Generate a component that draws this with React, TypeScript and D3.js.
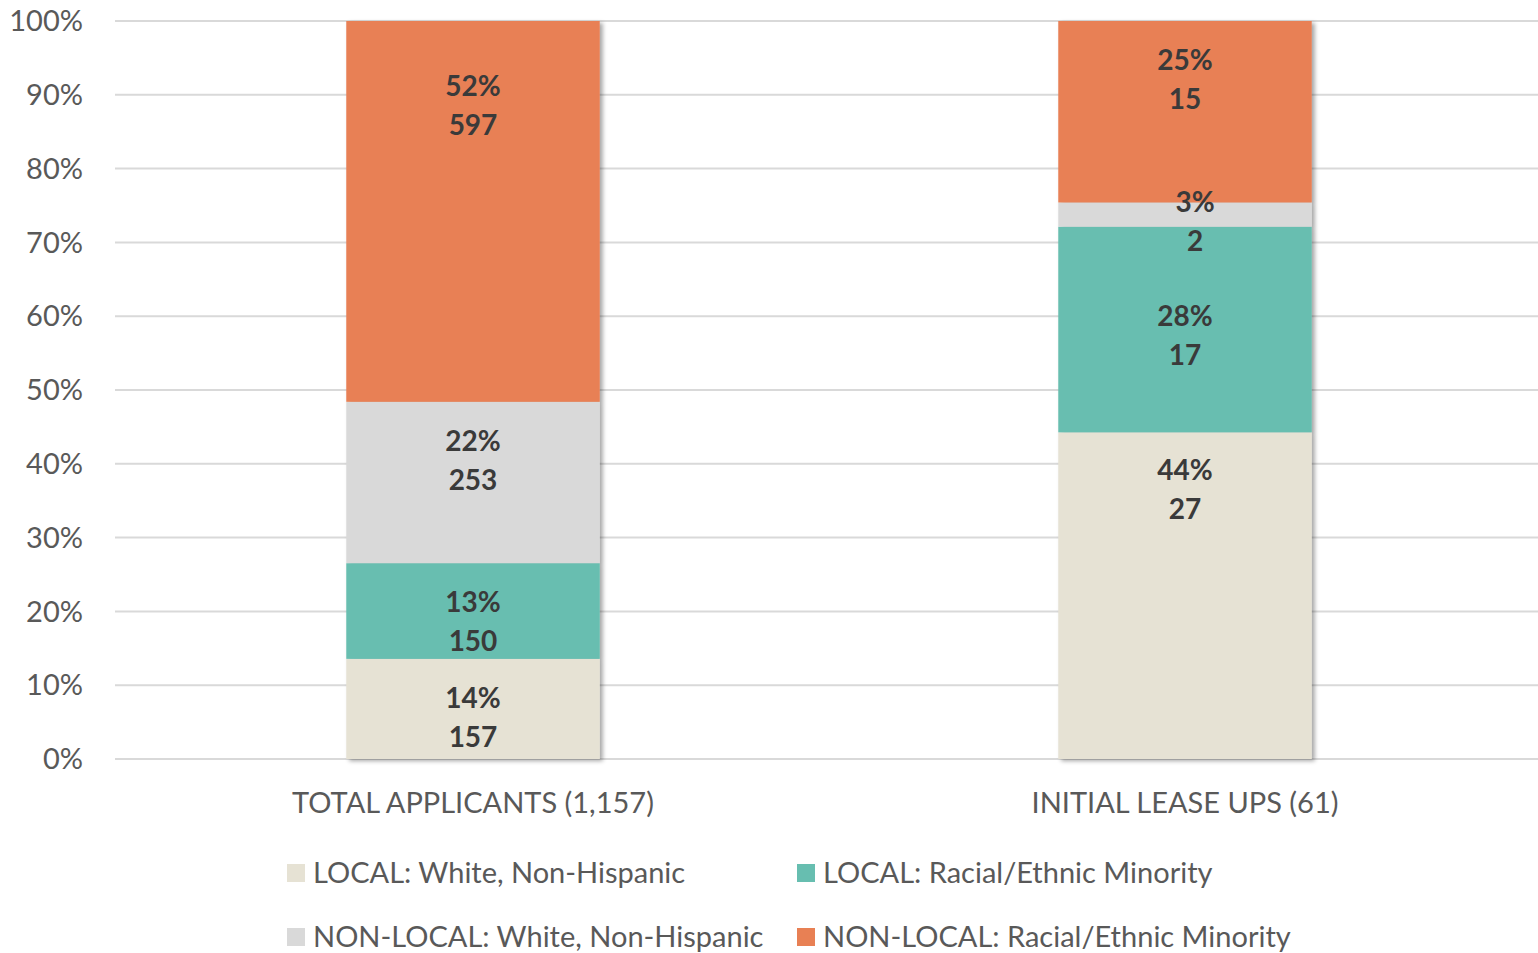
import React from 'react';
import * as d3 from 'd3';

// categories and counts
const categories = ['TOTAL APPLICANTS (1,157)', 'INITIAL LEASE UPS (61)'];
const seriesNames = [
  'LOCAL: White, Non-Hispanic',
  'LOCAL: Racial/Ethnic Minority',
  'NON-LOCAL: White, Non-Hispanic',
  'NON-LOCAL: Racial/Ethnic Minority',
];
const localWhite = [157, 27];
const localMinority = [150, 17];
const nonLocalWhite = [253, 2];
const nonLocalMinority = [597, 15];
// where the first label line sits, in percent of the axis
const labelAnchors = [
  [8.3, 21.3, 43.1, 91.2],
  [39.2, 60.0, 75.5, 94.7],
];
const yTicks = [0, 10, 20, 30, 40, 50, 60, 70, 80, 90, 100];
const colors = ['#E6E2D4', '#67BEB0', '#D9D9D9', '#E88054'];

const W = 1538;
const H = 953;
const font = 'Lato, "Open Sans", sans-serif';

export default function App() {
  const series = [localWhite, localMinority, nonLocalWhite, nonLocalMinority];

  // build rows of percentages for d3.stack
  const rows = categories.map((cat, i) => {
    const total = d3.sum(series, (s) => s[i]);
    let row: any = { cat, total };
    series.forEach((s, k) => {
      row['s' + k] = (s[i] / total) * 100;
    });
    return row;
  });
  const keys = series.map((_, k) => 's' + k);
  const stacked = d3.stack().keys(keys)(rows);

  const x = d3.scaleBand().domain(categories).range([117, 1541]).paddingInner(0.644).paddingOuter(0.322);
  const y = d3.scaleLinear().domain([0, 100]).range([759, 21]);

  return (
    <div style={{ position: 'absolute', left: 0, top: 0 }}>
      <svg width={W} height={H} style={{ display: 'block', background: '#fff' }}>
        <defs>
          <filter id="shadow" x="-10%" y="-10%" width="130%" height="130%">
            <feDropShadow dx="3" dy="2" stdDeviation="2" floodColor="#000" floodOpacity="0.35" />
          </filter>
        </defs>
        {yTicks.map((t) => (
          <g key={t}>
            <line x1={115} x2={W} y1={y(t)} y2={y(t)} stroke="#D9D9D9" strokeWidth={2} />
            <text x={83} y={y(t)} dy="0.35em" textAnchor="end" fontFamily={font} fontSize={29} fill="#595959">
              {t + '%'}
            </text>
          </g>
        ))}
        {categories.map((cat, i) => (
          <g key={cat} filter="url(#shadow)">
            {stacked.map((layer, k) => (
              <rect
                key={k}
                x={x(cat)}
                width={x.bandwidth()}
                y={y(layer[i][1])}
                height={y(layer[i][0]) - y(layer[i][1])}
                fill={colors[k]}
              />
            ))}
          </g>
        ))}
        {categories.map((cat, i) =>
          series.map((s, k) => {
            const pct = Math.round((s[i] / rows[i].total) * 100);
            const cx = x(cat)! + x.bandwidth() / 2 + (i === 1 && k === 2 ? 10 : 0);
            const ly = y(labelAnchors[i][k]);
            return (
              <g key={cat + k} fontFamily={font} fontSize={28} fontWeight="bold" fill="#3A3A3A" textAnchor="middle">
                <text x={cx} y={ly} dy="0.35em">{pct + '%'}</text>
                <text x={cx} y={ly + 39} dy="0.35em">{s[i]}</text>
              </g>
            );
          })
        )}
        {categories.map((cat) => (
          <text key={cat} x={x(cat)! + x.bandwidth() / 2} y={803} dy="0.35em" textAnchor="middle"
            fontFamily={font} fontSize={29} fill="#595959">
            {cat}
          </text>
        ))}
        {seriesNames.map((name, k) => {
          const lx = k % 2 === 0 ? 287 : 797;
          const ly = k < 2 ? 873 : 937;
          return (
            <g key={name}>
              <rect x={lx} y={ly - 9} width={18} height={18} fill={colors[k]} />
              <text x={lx + 26} y={ly} dy="0.35em" fontFamily={font} fontSize={29} fill="#595959">
                {name}
              </text>
            </g>
          );
        })}
      </svg>
    </div>
  );
}
